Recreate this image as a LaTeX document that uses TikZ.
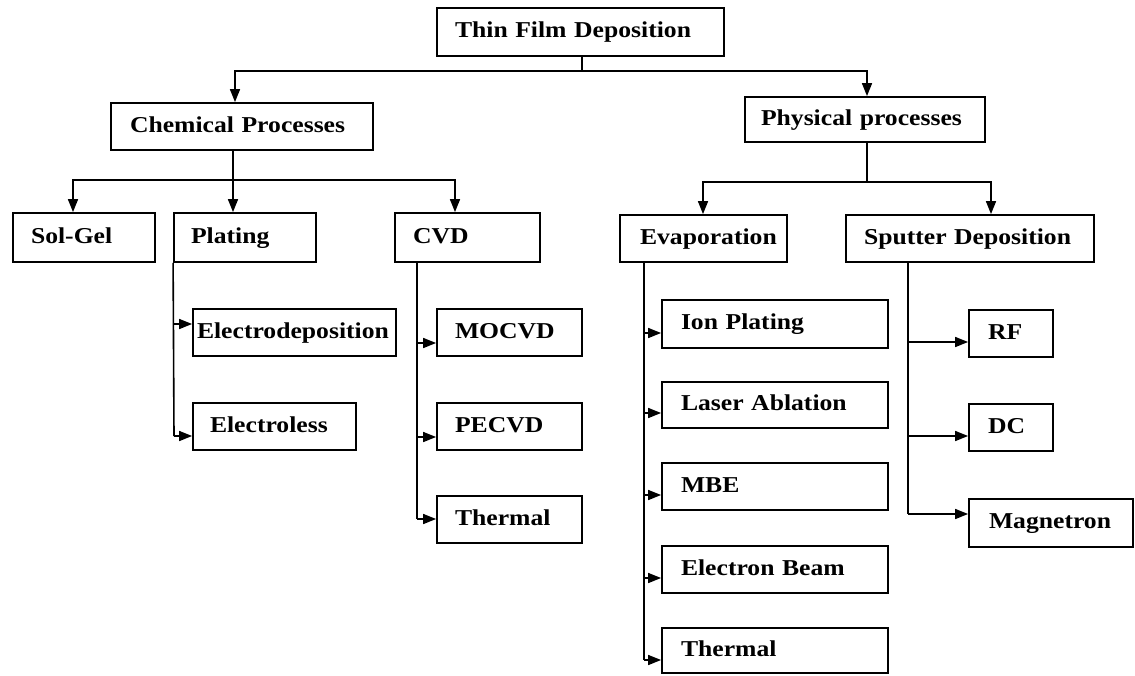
\documentclass[tikz,border=0pt]{standalone}
\usepackage{fontspec}
\setmainfont{Liberation Serif}[FakeStretch=1.13]
\usetikzlibrary{arrows.meta}
\tikzset{
  box/.style={draw=black, line width=1.8pt, inner ysep=0pt, align=left,
    text height=17pt, text depth=6pt,
    font=\fontsize{22.7}{26}\selectfont\bfseries},
  conn/.style={line width=1.6pt, draw=black},
  arr/.style={conn, -{Triangle[length=13pt,width=10pt]}}
}
\newcommand\mkbox[7]{%
  \pgfmathsetmacro\mkW{#4-#2-2*#6}%
  \pgfmathsetmacro\mkH{#5-#3}%
  \node[box, minimum height=\mkH pt, text width=\mkW pt, inner xsep=#6pt] (#1)
    at ({(#2+#4)/2},{(#3+#5)/2}) {\mbox{#7}};}
\begin{document}
\begin{tikzpicture}[x=1pt,y=-1pt]
\useasboundingbox (0,0) rectangle (1135,675);
% level 0
\mkbox{top}{437}{8}{724}{56}{18}{Thin Film Deposition}
% level 1
\mkbox{chem}{111}{103}{373}{150}{19}{Chemical Processes}
\mkbox{phys}{745}{97}{985}{142}{16}{Physical processes}
% level 2
\mkbox{solgel}{13}{213}{155}{262}{18}{Sol-Gel}
\mkbox{plating}{174}{213}{316}{262}{17}{Plating}
\mkbox{cvd}{395}{213}{540}{262}{18}{CVD}
\mkbox{evap}{620}{215}{787}{262}{20}{Evaporation}
\mkbox{sputter}{846}{215}{1094}{262}{18}{Sputter Deposition}
% plating children
\mkbox{edep}{193}{309}{396}{356}{4}{Electrodeposition}
\mkbox{eless}{193}{403}{356}{450}{17}{Electroless}
% cvd children
\mkbox{mocvd}{437}{309}{582}{356}{18}{MOCVD}
\mkbox{pecvd}{437}{403}{582}{450}{18}{PECVD}
\mkbox{cthermal}{437}{496}{582}{543}{18}{Thermal}
% evaporation children
\mkbox{ion}{662}{300}{888}{348}{19}{Ion Plating}
\mkbox{laser}{662}{382}{888}{428}{19}{Laser Ablation}
\mkbox{mbe}{662}{463}{888}{510}{19}{MBE}
\mkbox{ebeam}{662}{546}{888}{593}{19}{Electron Beam}
\mkbox{ethermal}{662}{628}{888}{673}{19}{Thermal}
% sputter children
\mkbox{rf}{969}{310}{1053}{357}{19}{RF}
\mkbox{dc}{969}{404}{1053}{451}{19}{DC}
\mkbox{mag}{969}{499}{1133}{547}{20}{Magnetron}

% ---- connectors ----
\coordinate (tj) at (582,71);
\draw[conn] (top.south -| tj) -- (tj);
\draw[arr] (tj) -| (chem.north -| 235,0);
\draw[arr] (tj) -| (phys.north -| 867,0);

\coordinate (cj) at (233,180);
\draw[conn] (chem.south -| cj) -- (cj);
\draw[arr] (cj) -| (solgel.north -| 73,0);
\draw[arr] (cj) -- (plating.north -| cj);
\draw[arr] (cj) -| (cvd.north -| 455,0);

\coordinate (pj) at (867,182);
\draw[conn] (phys.south -| pj) -- (pj);
\draw[arr] (pj) -| (evap.north -| 703,0);
\draw[arr] (pj) -| (sputter.north -| 991,0);

% plating branch
\coordinate (pl1) at (174,324);
\coordinate (pl2) at (174,436);
\draw[conn] (plating.south west) -- (pl2);
\draw[arr] (pl1) -- (edep.west |- pl1);
\draw[arr] (pl2) -- (eless.west |- pl2);

% cvd branch
\coordinate (cv0) at (417,262);
\coordinate (cv1) at (417,343);
\coordinate (cv2) at (417,437);
\coordinate (cv3) at (417,519);
\draw[conn] (cvd.south -| cv0) -- (cv3);
\draw[arr] (cv1) -- (mocvd.west |- cv1);
\draw[arr] (cv2) -- (pecvd.west |- cv2);
\draw[arr] (cv3) -- (cthermal.west |- cv3);

% evaporation branch
\coordinate (ev0) at (644,262);
\coordinate (ev1) at (644,333);
\coordinate (ev2) at (644,413);
\coordinate (ev3) at (644,495);
\coordinate (ev4) at (644,578);
\coordinate (ev5) at (644,660);
\draw[conn] (evap.south -| ev0) -- (ev5);
\draw[arr] (ev1) -- (ion.west |- ev1);
\draw[arr] (ev2) -- (laser.west |- ev2);
\draw[arr] (ev3) -- (mbe.west |- ev3);
\draw[arr] (ev4) -- (ebeam.west |- ev4);
\draw[arr] (ev5) -- (ethermal.west |- ev5);

% sputter branch
\coordinate (sp0) at (908,262);
\coordinate (sp1) at (908,342);
\coordinate (sp2) at (908,436);
\coordinate (sp3) at (908,514);
\draw[conn] (sputter.south -| sp0) -- (sp3);
\draw[arr] (sp1) -- (rf.west |- sp1);
\draw[arr] (sp2) -- (dc.west |- sp2);
\draw[arr] (sp3) -- (mag.west |- sp3);
\end{tikzpicture}
\end{document}
